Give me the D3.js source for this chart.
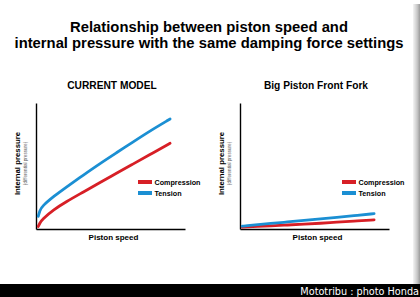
<!DOCTYPE html>
<html>
<head>
<meta charset="utf-8">
<script src="https://cdn.jsdelivr.net/npm/d3@7"></script>
<style>
  html, body { margin: 0; padding: 0; background: #fff; }
  svg { display: block; }
  text { font-family: "Liberation Sans", Arial, sans-serif; }
</style>
</head>
<body>
<div class="chart"></div>
<script>
var outerW = 420,
	outerH = 297;

// Data (arbitrary units 0-10)
var titleLines = ["Relationship between piston speed and",
	"internal pressure with the same damping force settings"];
var panelTitles = ["CURRENT MODEL", "Big Piston Front Fork"];
var seriesNames = ["Compression", "Tension"];
var pistonSpeed = [0.15, 0.25, 0.4, 1.2, 2.0, 3.2, 4.3, 5.4, 6.5, 7.6, 9.0];
var currentCompression = [0.2, 0.45, 0.75, 1.55, 2.15, 2.95, 3.7, 4.42, 5.15, 5.88, 6.8];
var currentTension = [1.0, 1.45, 1.8, 2.6, 3.3, 4.3, 5.2, 6.05, 6.9, 7.75, 8.73];
var bigPistonCompression = [0.14, 0.15, 0.16, 0.2, 0.25, 0.32, 0.38, 0.45, 0.55, 0.63, 0.72];
var bigPistonTension = [0.22, 0.23, 0.25, 0.35, 0.43, 0.56, 0.68, 0.8, 0.92, 1.05, 1.22];
var credit = "Mototribu : photo Honda";

var colors = { Compression: "#d71f26", Tension: "#1b8fd3" };

var svg = d3.select(".chart")
	.append("svg")
	.attr("width", outerW)
	.attr("height", outerH);

svg.append("rect")
	.attr("width", outerW)
	.attr("height", outerH)
	.attr("fill", "#fff");

// right edge shadow
var grad = svg.append("defs").append("linearGradient")
	.attr("id", "shade")
	.attr("x1", 0).attr("x2", 1).attr("y1", 0).attr("y2", 0);
grad.append("stop").attr("offset", "0%").attr("stop-color", "#f4f4f4");
grad.append("stop").attr("offset", "60%").attr("stop-color", "#c8c8c8");
grad.append("stop").attr("offset", "100%").attr("stop-color", "#9a9a9a");
svg.append("rect")
	.attr("x", 413)
	.attr("y", 4)
	.attr("width", 7)
	.attr("height", 281)
	.attr("fill", "url(#shade)");

// main title
svg.selectAll(".title")
	.data(titleLines)
	.enter()
	.append("text")
	.attr("class", "title")
	.attr("x", 209)
	.attr("y", function(d, i) { return 31.5 + i * 16; })
	.attr("text-anchor", "middle")
	.style("font-weight", "bold")
	.style("font-size", "14.8px")
	.text(function(d) { return d; });

// footer bar
svg.append("rect")
	.attr("x", 0)
	.attr("y", 284)
	.attr("width", outerW)
	.attr("height", 13)
	.attr("fill", "#000");
svg.append("text")
	.attr("x", 419)
	.attr("y", 294.5)
	.attr("text-anchor", "end")
	.attr("fill", "#fff")
	.style("font-family", "'DejaVu Sans', sans-serif")
	.style("font-size", "9.7px")
	.text(credit);

function drawPanel(left, title, compression, tension) {
	var g = svg.append("g")
		.attr("transform", "translate(" + left + ",0)");

	var x = d3.scaleLinear().domain([0, 10]).range([0, 149]);
	var y = d3.scaleLinear().domain([0, 10]).range([229, 103]);

	g.append("text")
		.attr("x", x(5.1))
		.attr("y", 88.5)
		.attr("text-anchor", "middle")
		.style("font-weight", "bold")
		.style("font-size", "10.2px")
		.text(title);

	// axes, no ticks
	g.append("g")
		.attr("transform", "translate(0," + y(0) + ")")
		.call(d3.axisBottom(x).ticks(0).tickSizeOuter(0))
		.select(".domain")
		.attr("stroke", "#000")
		.attr("stroke-width", 1.4);
	g.append("g")
		.call(d3.axisLeft(y).ticks(0).tickSizeOuter(0))
		.select(".domain")
		.attr("stroke", "#000")
		.attr("stroke-width", 1.4);

	g.append("text")
		.attr("x", x(5.2))
		.attr("y", 240)
		.attr("text-anchor", "middle")
		.style("font-weight", "bold")
		.style("font-size", "8px")
		.text("Piston speed");

	g.append("text")
		.attr("transform", "translate(-16," + y(5.2) + ") rotate(-90)")
		.attr("text-anchor", "middle")
		.style("font-weight", "bold")
		.style("font-size", "7.8px")
		.text("Internal pressure");
	g.append("text")
		.attr("transform", "translate(-9.5," + y(5.2) + ") rotate(-90)")
		.attr("text-anchor", "middle")
		.attr("fill", "#555")
		.style("font-size", "4.6px")
		.text("(differential pressure)");

	var line = d3.line()
		.curve(d3.curveBasis)
		.x(function(d) { return x(d[0]); })
		.y(function(d) { return y(d[1]); });

	var series = [
		{ name: "Compression", values: compression },
		{ name: "Tension", values: tension }
	];
	series.forEach(function(s) {
		g.append("path")
			.attr("d", line(d3.zip(pistonSpeed, s.values)))
			.attr("fill", "none")
			.attr("stroke", colors[s.name])
			.attr("stroke-width", 2.8)
			.attr("stroke-linecap", "round");
	});

	// legend
	seriesNames.forEach(function(name, i) {
		g.append("rect")
			.attr("x", 102)
			.attr("y", 180 + i * 11)
			.attr("width", 14)
			.attr("height", 4)
			.attr("fill", colors[name]);
		g.append("text")
			.attr("x", 118.5)
			.attr("y", 184.8 + i * 11)
			.style("font-weight", "bold")
			.style("font-size", "7.2px")
			.text(name);
	});
}

drawPanel(36, panelTitles[0], currentCompression, currentTension);
drawPanel(240, panelTitles[1], bigPistonCompression, bigPistonTension);
</script>
</body>
</html>
